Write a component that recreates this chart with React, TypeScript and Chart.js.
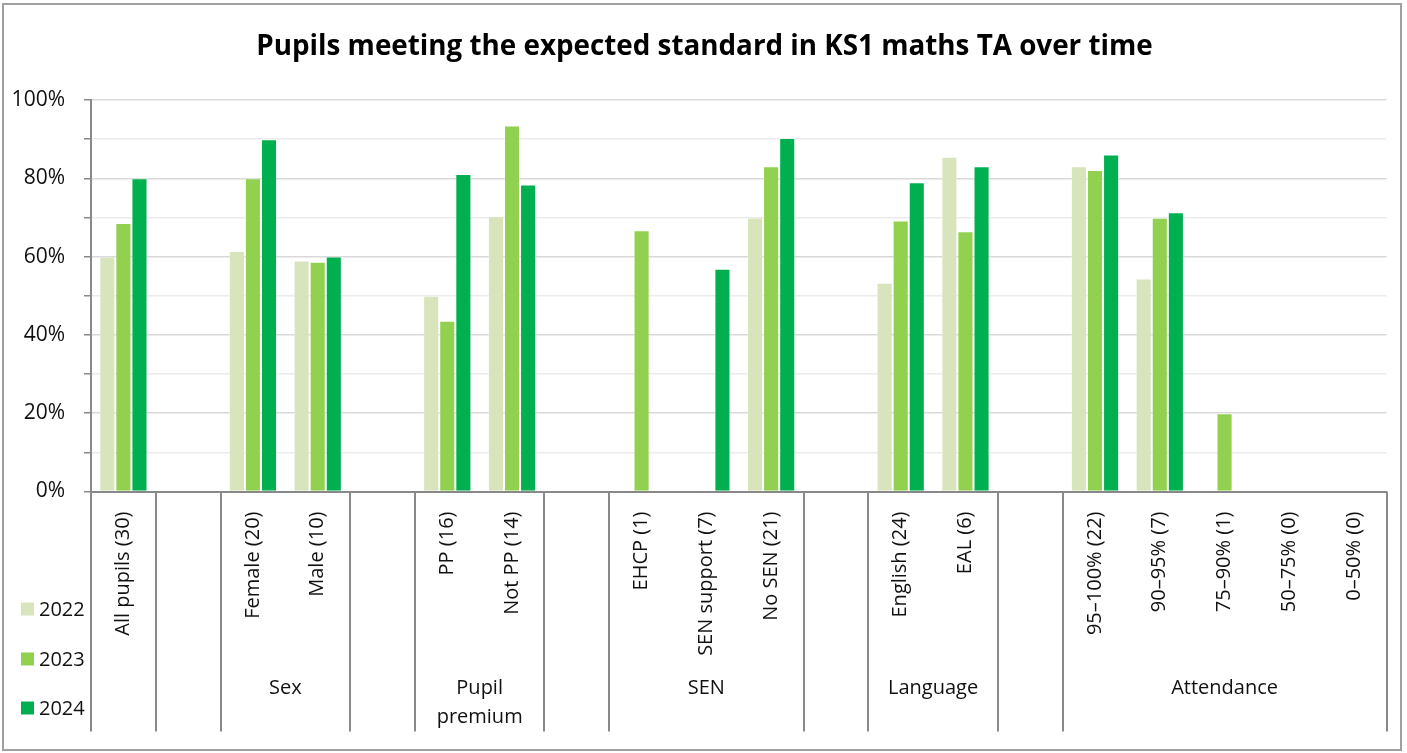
import React, { useEffect, useRef } from 'react';
import { Chart, registerables } from 'chart.js';

Chart.register(...registerables);

const FONT = "'Open Sans', 'Noto Sans', 'DejaVu Sans', sans-serif";

const titleText = 'Pupils meeting the expected standard in KS1 maths TA over time';

const categories = [
  'All pupils (30)', '',
  'Female (20)', 'Male (10)', '',
  'PP (16)', 'Not PP (14)', '',
  'EHCP (1)', 'SEN support (7)', 'No SEN (21)', '',
  'English (24)', 'EAL (6)', '',
  '95–100% (22)', '90–95% (7)', '75–90% (1)', '50–75% (0)', '0–50% (0)',
];

const groupNames = [[''], ['Sex'], ['Pupil', 'premium'], ['SEN'], ['Language'], ['Attendance']];
const groupStarts = [0, 2, 5, 8, 12, 15];
const groupEnds = [0, 3, 6, 10, 13, 19];

const years = ['2022', '2023', '2024'];
const values2022 = [60, null, 61.4, 59.0, null, 50, 70.4, null, null, null, 70, null, 53.3, 85.5, null, 83.1, 54.4, null, null, null];
const values2023 = [68.6, null, 80, 58.7, null, 43.6, 93.5, null, 66.7, null, 83.1, null, 69.2, 66.5, null, 82.1, 69.9, 20, null, null];
const values2024 = [80, null, 90, 60, null, 81.1, 78.4, null, null, 56.9, 90.3, null, 79.0, 83.1, null, 86.1, 71.3, null, null, null];
const seriesColors = ['#d8e4bc', '#92d050', '#00b050'];

const yMin = 0;
const yMax = 100;
const yStep = 10;
const yLabelEvery = 20;

const decorPlugin = {
  id: 'decor',
  afterDraw(chart: any) {
    const { ctx } = chart;
    const x = chart.scales.x;
    const y = chart.scales.y;
    const n = categories.length;
    const w = (x.right - x.left) / n;
    ctx.save();
    // title, centred on the whole canvas
    ctx.fillStyle = '#000';
    ctx.font = `bold 27.8px ${FONT}`;
    ctx.textAlign = 'center';
    ctx.textBaseline = 'middle';
    ctx.fillText(titleText, chart.width / 2 + 1, 47);
    // separators of the multi-level category axis
    ctx.strokeStyle = '#898989';
    ctx.lineWidth = 2;
    const bounds = new Set<number>();
    groupStarts.forEach((s) => bounds.add(s));
    groupEnds.forEach((e) => bounds.add(e + 1));
    bounds.forEach((b) => {
      const px = Math.round(x.left + b * w);
      ctx.beginPath();
      ctx.moveTo(px, y.bottom);
      ctx.lineTo(px, x.bottom);
      ctx.stroke();
    });
    // group labels
    ctx.fillStyle = '#111';
    ctx.font = `20px ${FONT}`;
    ctx.textAlign = 'center';
    ctx.textBaseline = 'middle';
    groupNames.forEach((lines, i) => {
      const cx = x.left + ((groupStarts[i] + groupEnds[i] + 1) / 2) * w;
      lines.forEach((ln, j) => {
        if (ln) ctx.fillText(ln, cx, x.top + 196.5 + j * 29);
      });
    });
    // legend
    const legendY = [609, 659, 708];
    ctx.textAlign = 'left';
    years.forEach((yr, i) => {
      ctx.fillStyle = seriesColors[i];
      ctx.fillRect(21, legendY[i] - 6.5, 13, 13);
      ctx.fillStyle = '#111';
      ctx.fillText(yr, 39, legendY[i] + 1);
    });
    // outer border
    ctx.strokeStyle = '#a0a0a0';
    ctx.lineWidth = 2;
    ctx.strokeRect(3, 4, 1398, 746);
    ctx.restore();
  },
};

export default function App() {
  const canvasRef = useRef<HTMLCanvasElement | null>(null);

  useEffect(() => {
    const canvas = canvasRef.current;
    if (!canvas) return;
    const seriesValues = [values2022, values2023, values2024];
    const chart = new Chart(canvas, {
      type: 'bar',
      data: {
        labels: categories,
        datasets: years.map((yr, i) => ({
          label: yr,
          data: seriesValues[i],
          backgroundColor: seriesColors[i],
          borderColor: 'rgba(255,255,255,0.3)',
          borderWidth: 1,
          categoryPercentage: 0.745,
          barPercentage: 1,
        })),
      },
      options: {
        responsive: false,
        animation: false,
        devicePixelRatio: 1,
        layout: { padding: { top: 100, left: 0, right: 20.5, bottom: 21.5 } },
        plugins: {
          legend: { display: false },
          tooltip: { enabled: false },
          title: { display: false },
        },
        scales: {
          x: {
            grid: { display: false },
            border: { display: true, color: '#898989', width: 2 },
            ticks: {
              color: '#111',
              font: { family: FONT, size: 20 },
              minRotation: 90,
              maxRotation: 90,
              autoSkip: false,
              padding: 12,
            },
            afterFit: (scale: any) => {
              scale.height = 240;
            },
          },
          y: {
            min: yMin,
            max: yMax,
            grid: {
              color: (c: any) => (c.tick && c.tick.value % yLabelEvery === 0 ? '#d9d9d9' : '#ebebeb'),
              lineWidth: 1.5,
              tickColor: '#898989',
              tickLength: 7,
            },
            border: { display: true, color: '#898989', width: 2 },
            ticks: {
              stepSize: yStep,
              color: '#111',
              font: { family: FONT, size: 21 },
              padding: 19,
              callback: (v: any) => (Number(v) % yLabelEvery === 0 ? `${v}%` : ''),
            },
            afterFit: (scale: any) => {
              scale.width = 91;
            },
          },
        },
      },
      plugins: [decorPlugin],
    });
    return () => chart.destroy();
  }, []);

  return (
    <div style={{ position: 'fixed', left: 0, top: 0, width: 1407, height: 753, background: '#fff' }}>
      <canvas ref={canvasRef} width={1407} height={753} style={{ width: 1407, height: 753, display: 'block' }} />
    </div>
  );
}
